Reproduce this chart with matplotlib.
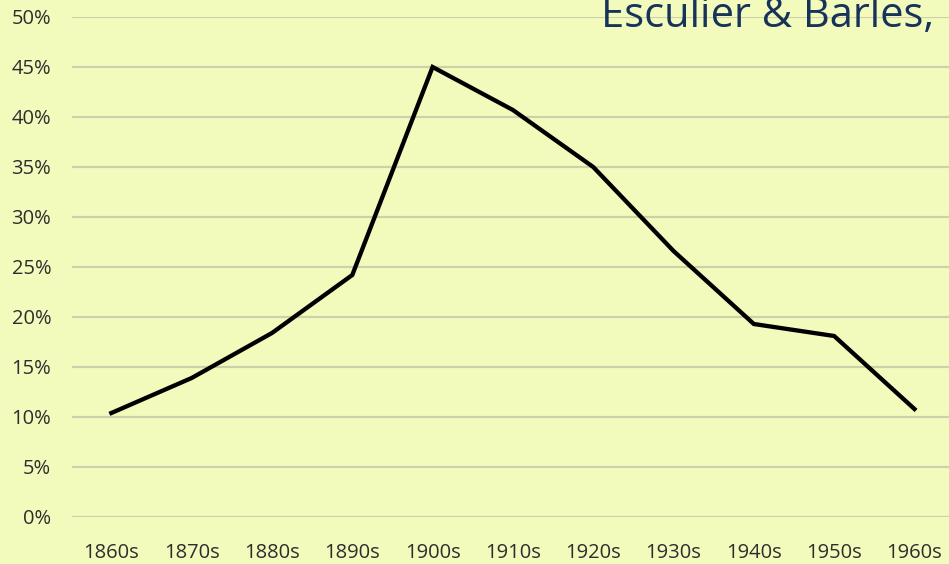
import numpy as np
import matplotlib.pyplot as plt

decades = ['1860s', '1870s', '1880s', '1890s', '1900s', '1910s',
           '1920s', '1930s', '1940s', '1950s', '1960s']
share = [10.4, 13.9, 18.4, 24.2, 45.0, 40.7, 35.0, 26.6, 19.3, 18.1, 10.8]
yticks = [0, 5, 10, 15, 20, 25, 30, 35, 40, 45, 50]

bg = '#F3FBBC'
fig = plt.figure(figsize=(9.49, 5.64), dpi=100, facecolor=bg)
ax = fig.add_axes([72/949, 47/564, 1 - 72/949, 500/564])
ax.set_facecolor(bg)

x = np.arange(len(decades))
ax.plot(x, share, color='black', lw=3.1, solid_joinstyle='miter')

ax.set_xlim(-0.49, 10.43)
ax.set_ylim(0, 50)
ax.set_xticks(x)
ax.set_xticklabels(decades)
ax.set_yticks(yticks)
ax.set_yticklabels([f'{v}%' for v in yticks])
ax.grid(axis='y', color='#CDD0A8', lw=1.6)
ax.set_axisbelow(True)
for s in ax.spines.values():
    s.set_visible(False)
ax.tick_params(length=0, labelsize=14.5, labelcolor='#2E2E2E')
ax.tick_params(axis='y', pad=15)
ax.tick_params(axis='x', pad=19)
for lab in ax.get_xticklabels() + ax.get_yticklabels():
    lab.set_family('Open Sans')

fig.text(601/949, 1 - 27/564, 'Esculier & Barles,', family='Open Sans',
         fontsize=30, color='#17335A', ha='left', va='baseline')

fig.savefig('out.png', dpi=100, facecolor=bg)
